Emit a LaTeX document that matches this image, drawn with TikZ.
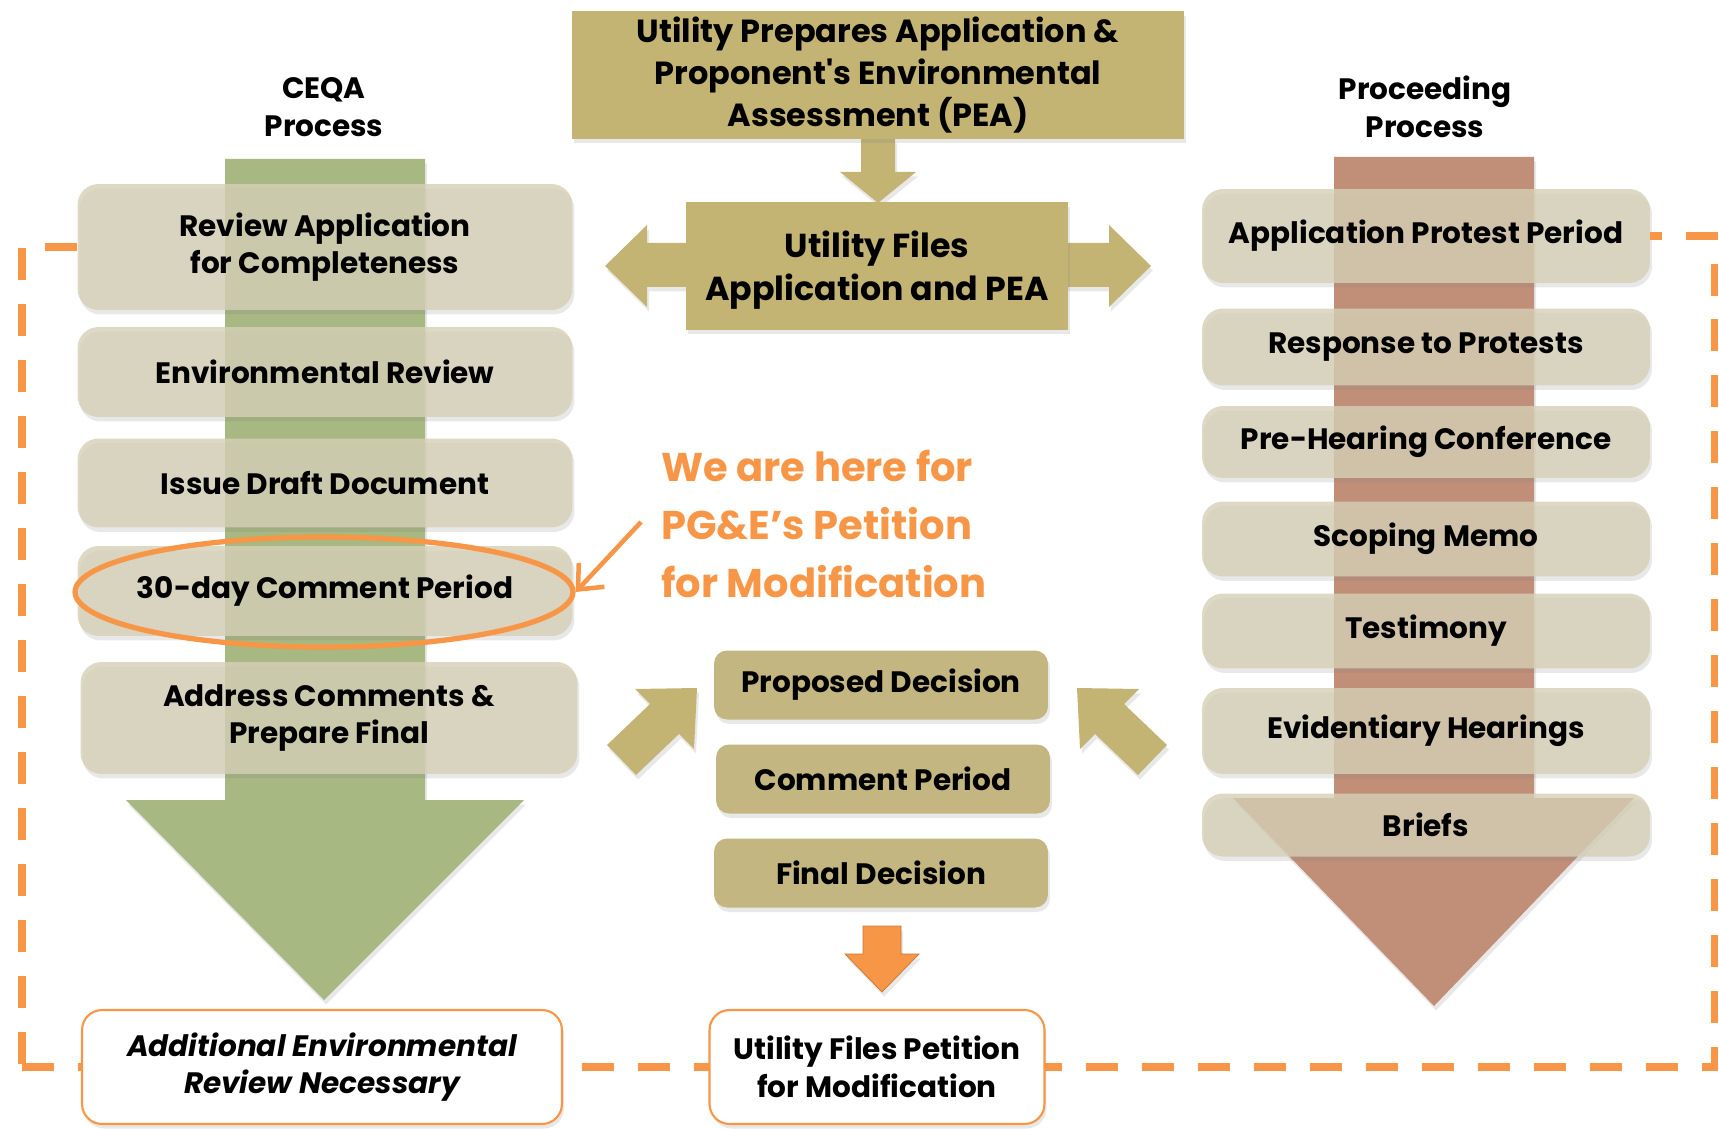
\documentclass[tikz,border=0pt]{standalone}
\usepackage{fontspec}
\setmainfont{Poppins}
\usetikzlibrary{positioning,shadows,shapes.geometric,arrows.meta}

\definecolor{ceqagreen}{RGB}{168,184,130}
\definecolor{procbrown}{RGB}{193,143,120}
\definecolor{paletan}{RGB}{214,208,182}
\definecolor{goldtan}{RGB}{196,180,116}
\definecolor{midtan}{RGB}{195,182,128}
\definecolor{pgeorange}{RGB}{247,150,70}

\newcommand\boxfont{\fontsize{16.8}{21.5}\selectfont\bfseries}
\newcommand\bigboxfont{\fontsize{18.2}{24}\selectfont\bfseries}
\newcommand\notefont{\fontsize{22.8}{33}\selectfont\bfseries}

\tikzset{
  softshadow/.style={drop shadow={opacity=0.18, shadow xshift=0.4mm, shadow yshift=-0.9mm}},
  stepbox/.style={rounded corners=0.42cm, fill=paletan, fill opacity=0.8, text opacity=1,
    softshadow, align=center, font=\boxfont, inner sep=0pt},
  leftbox/.style={stepbox, minimum width=9.9cm},
  rightbox/.style={stepbox, minimum width=8.96cm},
  midbox/.style={rounded corners=0.26cm, fill=midtan, softshadow, align=center,
    font=\boxfont, inner sep=0pt, minimum width=6.68cm, minimum height=1.38cm},
  headbox/.style={fill=goldtan, softshadow, align=center, font=\bigboxfont, inner sep=0pt},
  endbox/.style={rounded corners=0.4cm, draw=pgeorange, line width=1.2pt, fill=white,
    softshadow, align=center, font=\boxfont, inner sep=0pt, minimum height=2.28cm},
  blockarrow/.style={fill=goldtan, softshadow},
  dashline/.style={pgeorange, line width=4pt, dash pattern=on 0.64cm off 0.48cm},
  notearrow/.style={pgeorange, line width=2.6pt, -{Straight Barb[length=4mm, width=7mm, line width=2.6pt]}},
}

\begin{document}
\begin{tikzpicture}[x=0.02cm, y=-0.02cm]
  \useasboundingbox (0,0) rectangle (1719,1128);

  % process columns
  \fill[ceqagreen, softshadow] (225,159) -- (425,159) -- (425,800) -- (524,800)
    -- (324,1000) -- (126,800) -- (225,800) -- cycle;
  \fill[procbrown, softshadow] (1334,157) -- (1534,157) -- (1534,798) -- (1634,798)
    -- (1434,1006) -- (1233,798) -- (1334,798) -- cycle;

  % titles
  \node[font=\boxfont, align=center] (ceqa) at (324,107) {CEQA\\Process};
  \node[font=\boxfont, align=center] (proc) at (1425,107) {Proceeding\\Process};

  % dashed loop
  \coordinate (loopnw) at (22,247);
  \coordinate (loopsw) at (22,1067);
  \coordinate (loopse) at (1714,1067);
  \coordinate (loopne) at (1714,236);

  % CEQA steps
  \node[leftbox, minimum height=2.52cm] (review) at (325,247) {Review Application\\for Completeness};
  \node[leftbox, minimum height=1.8cm] (envrev) at (325,372) {Environmental Review};
  \node[leftbox, minimum height=1.78cm] (draft) at (325,483) {Issue Draft Document};
  \node[leftbox, minimum height=1.8cm] (comment30) at (325,591) {30-day Comment Period};
  \node[leftbox, minimum height=2.24cm, minimum width=9.94cm] (address) at (329,718) {Address Comments \&\\Prepare Final};
  \node[draw=pgeorange, line width=3pt, ellipse, minimum width=9.96cm, minimum height=2.2cm] (ring) at (324,592) {};

  % proceeding steps
  \node[rightbox, minimum height=1.88cm] (protest) at (1426,236) {Application Protest Period};
  \node[rightbox, minimum height=1.54cm] (response) at (1426,347) {Response to Protests};
  \node[rightbox, minimum height=1.44cm] (prehear) at (1426,442) {Pre-Hearing Conference};
  \node[rightbox, minimum height=1.5cm] (scoping) at (1426,539) {Scoping Memo};
  \node[rightbox, minimum height=1.5cm] (testimony) at (1426,631) {Testimony};
  \node[rightbox, minimum height=1.72cm] (evident) at (1426,731) {Evidentiary Hearings};
  \node[rightbox, minimum height=1.26cm] (briefs) at (1426,825) {Briefs};

  % filing
  \fill[blockarrow] (861,139) -- (895,139) -- (895,172) -- (916,172) -- (878,203)
    -- (840,172) -- (861,172) -- cycle;
  \fill[blockarrow] (690,243) -- (647,243) -- (647,225) -- (605,266) -- (647,307)
    -- (647,287) -- (690,287) -- cycle;
  \fill[blockarrow] (1065,243) -- (1109,243) -- (1109,225) -- (1151,266) -- (1109,307)
    -- (1109,287) -- (1065,287) -- cycle;
  \node[headbox, minimum width=12.24cm, minimum height=2.56cm] (prepare) at (878,75)
    {Utility Prepares Application \&\\Proponent\textquotesingle s Environmental\\Assessment (PEA)};
  \node[headbox, minimum width=7.66cm, minimum height=2.56cm] (files) at (877,266) {};
  \node[font=\fontsize{18.9}{24.5}\selectfont\bfseries, align=center] (fileslabel) at (877,270)
    {Utility Files\\Application and PEA};

  % decision
  \fill[blockarrow] (697,688) -- (694,749) -- (679,734) -- (636,775) -- (607,745)
    -- (650,704) -- (635,689) -- cycle;
  \fill[blockarrow] (1077,688) -- (1080,749) -- (1095,734) -- (1138,775) -- (1167,745)
    -- (1124,704) -- (1139,689) -- cycle;
  \node[midbox] (proposed) at (881,685) {Proposed Decision};
  \node[midbox] (comment) at (883,779) {Comment Period};
  \node[midbox] (final) at (881,873) {Final Decision};
  \fill[pgeorange, draw=pgeorange!80!black, line width=0.4pt, softshadow] (863,926) -- (901,926) -- (901,954) -- (919,954)
    -- (882,992) -- (845,954) -- (863,954) -- cycle;

  % outcomes
  \draw[dashline] (review.west) -- (loopnw) -- (loopsw) -- (8,1067);
  \draw[dashline] (loopsw) -- (loopse) -- (loopne) -- (protest.east);
  \node[endbox, minimum width=9.6cm, font=\boxfont\itshape] (additional) at (322,1067)
    {Additional Environmental\\Review Necessary};
  \node[endbox, minimum width=6.7cm] (petition) at (877,1067)
    {Utility Files Petition\\for Modification};

  % note
  \node[font=\notefont, text=pgeorange, align=left, anchor=west] (note) at (655,524)
    {We are here for\\PG\&E’s Petition\\for Modification};
  \coordinate (notefoot) at (641,522);
  \draw[notearrow] (notefoot) -- (ring.east);
\end{tikzpicture}
\end{document}
